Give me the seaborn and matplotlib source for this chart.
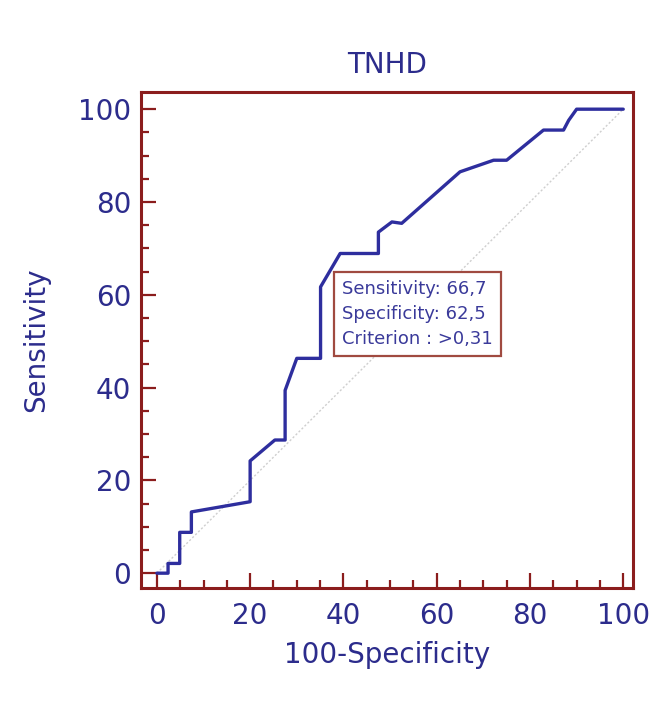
"""ROC curve for TNHD with the optimal-criterion box."""
import matplotlib
matplotlib.use("Agg")
import matplotlib.pyplot as plt
import pandas as pd
import seaborn as sns
from matplotlib.ticker import MultipleLocator

# ROC points (100-Specificity, Sensitivity)
fpr = [0, 2.4, 2.4, 4.9, 4.9, 7.4, 7.4, 20, 20, 25.3, 27.5, 27.5, 30,
       35.1, 35.1, 39.3, 47.5, 47.5, 50.4, 52.5, 65, 72.2, 75, 82.9,
       87.2, 88.3, 90, 100]
tpr = [0, 0, 2.1, 2.1, 8.8, 8.8, 13.2, 15.4, 24.2, 28.7, 28.7, 39.4, 46.3,
       46.3, 61.7, 68.9, 68.9, 73.5, 75.7, 75.4, 86.5, 89, 89, 95.5,
       95.5, 97.6, 100, 100]
ref_x = [0, 100]
ref_y = [0, 100]
sens_val = "66,7"
spec_val = "62,5"
criterion = ">0,31"
title = "TNHD"

NAVY = "#2c2c8c"
CURVE = "#2e2e9e"
FRAME = "#8b1d1d"

sns.set_style("white")
plt.rcParams["font.family"] = ["DejaVu Sans"]

roc = pd.DataFrame({"fpr": fpr, "tpr": tpr})
diag = pd.DataFrame({"x": ref_x, "y": ref_y})

fig = plt.figure(figsize=(6.51, 7.2), dpi=100)
ax = fig.add_axes([0.2166, 0.1833, 0.7558, 0.6889])

sns.lineplot(data=diag, x="x", y="y", ax=ax, color="#cfcfcf", lw=1,
             linestyle=(0, (1.5, 1.5)), sort=False, estimator=None)
sns.lineplot(data=roc, x="fpr", y="tpr", ax=ax, color=CURVE, lw=2.4,
             sort=False, estimator=None)

ax.set_xlim(-3.4, 102.1)
ax.set_ylim(-3.2, 103.7)
ax.xaxis.set_major_locator(MultipleLocator(20))
ax.xaxis.set_minor_locator(MultipleLocator(5))
ax.yaxis.set_major_locator(MultipleLocator(20))
ax.yaxis.set_minor_locator(MultipleLocator(5))
ax.tick_params(which="both", direction="in", color=FRAME, width=1.6,
               bottom=True, left=True, top=False, right=False)
ax.tick_params(which="major", length=11, labelsize=20, labelcolor=NAVY)
ax.tick_params(axis="x", which="major", pad=10)
ax.tick_params(axis="y", which="major", pad=7)
ax.tick_params(which="minor", length=5.5)
for sp in ax.spines.values():
    sp.set_visible(True)
    sp.set_color(FRAME)
    sp.set_linewidth(2.2)

ax.set_xlabel("100-Specificity", fontsize=20, color=NAVY, labelpad=8)
ax.set_ylabel("Sensitivity", fontsize=20, color=NAVY, labelpad=20)
ax.set_title(title, fontsize=20, color=NAVY, pad=14)

box_txt = (f"Sensitivity: {sens_val}\nSpecificity: {spec_val}\n"
           f"Criterion : {criterion}")
ax.text(39.7, 55.9, box_txt, fontsize=13, color="#3a3a9a", va="center",
        ha="left", linespacing=1.5,
        bbox=dict(boxstyle="square,pad=0.45", fc="white", ec="#a04a40",
                  lw=1.6))

fig.savefig("out.png", dpi=100, facecolor="white")
